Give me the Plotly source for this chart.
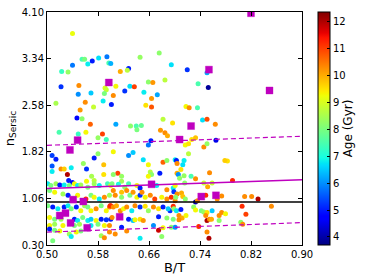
import numpy as np
import plotly.graph_objects as go

# ---- data: galaxies (B/T, Sersic index, age in Gyr) ----
bt = [
    0.540, 0.555, 0.559, 0.571, 0.581, 0.594, 0.597, 0.600, 0.564, 0.540,
    0.523, 0.533, 0.615, 0.628, 0.626, 0.646, 0.676, 0.695, 0.550, 0.522,
    0.608, 0.591, 0.593, 0.630, 0.637, 0.622, 0.569, 0.549, 0.590, 0.604,
    0.652, 0.659, 0.666, 0.685, 0.673, 0.664, 0.514, 0.560, 0.588, 0.601,
    0.552, 0.573, 0.655, 0.664, 0.547, 0.555, 0.568, 0.608, 0.631, 0.640,
    0.648, 0.641, 0.682, 0.678, 0.697, 0.519, 0.561, 0.587, 0.549,
    0.720, 0.751, 0.737, 0.753, 0.718, 0.723, 0.736, 0.744, 0.751, 0.764,
    0.580, 0.593, 0.508, 0.514, 0.508, 0.508, 0.522, 0.527, 0.538, 0.532,
    0.534, 0.540, 0.557, 0.562, 0.574, 0.580, 0.589, 0.589, 0.570, 0.574, 0.562,
    # dense band, left
    0.501, 0.506, 0.514, 0.520, 0.527, 0.535, 0.543, 0.548, 0.553, 0.564,
    0.574, 0.582, 0.595, 0.600,
    0.504, 0.512, 0.525, 0.533, 0.548, 0.561, 0.569, 0.574, 0.582, 0.590, 0.598,
    0.501, 0.509, 0.517, 0.527, 0.533, 0.538, 0.546, 0.553, 0.559, 0.564,
    0.569, 0.577, 0.585, 0.593, 0.598, 0.600,
    0.504, 0.512, 0.522, 0.543, 0.548, 0.556, 0.564, 0.569, 0.577, 0.585,
    0.593, 0.600,
    0.504, 0.512, 0.525, 0.543, 0.551, 0.569, 0.580, 0.590, 0.598,
    0.504, 0.512, 0.520, 0.535, 0.538, 0.546, 0.553, 0.585, 0.590, 0.598, 0.509,
    # dense band, middle
    0.685, 0.689, 0.663, 0.659, 0.604, 0.635, 0.628, 0.651, 0.682, 0.688,
    0.701, 0.659, 0.677, 0.662, 0.664, 0.659, 0.611, 0.604, 0.617, 0.617,
    0.602, 0.612, 0.622, 0.628, 0.641, 0.646, 0.672, 0.688, 0.698,
    0.604, 0.617, 0.625, 0.607, 0.617, 0.630, 0.635, 0.641, 0.646, 0.649,
    0.654, 0.662, 0.669, 0.680, 0.688, 0.695, 0.701,
    0.599, 0.604, 0.609, 0.615, 0.620, 0.625, 0.633, 0.638, 0.646, 0.654,
    0.659, 0.667, 0.675, 0.682, 0.693, 0.698, 0.690,
    0.602, 0.615, 0.628, 0.635, 0.638, 0.646, 0.651, 0.667, 0.675, 0.688, 0.698,
    0.617, 0.625, 0.675, 0.682, 0.695, 0.607, 0.646, 0.680,
    # dense band, right
    0.717, 0.722, 0.727, 0.733, 0.746, 0.751, 0.765, 0.783, 0.779, 0.722,
    0.703, 0.715, 0.713, 0.704, 0.710, 0.704, 0.706, 0.708, 0.715, 0.726,
    0.733, 0.755, 0.746, 0.759, 0.791, 0.716, 0.701,
    0.699, 0.704, 0.711, 0.713, 0.717, 0.702, 0.752, 0.749, 0.767, 0.774,
    0.733, 0.736,
    0.699, 0.703, 0.710, 0.730, 0.733, 0.742, 0.746, 0.751, 0.759, 0.770,
    0.774, 0.780,
    0.707, 0.712, 0.707, 0.718, 0.749, 0.751, 0.755, 0.758, 0.770,
    0.701, 0.738, 0.751, 0.754,
    0.810, 0.821, 0.831, 0.806, 0.852, 0.812, 0.804, 0.807,
]
n_sersic = [
    3.75, 3.33, 3.33, 3.30, 3.35, 3.37, 3.27, 3.26, 3.25, 3.23,
    3.13, 3.12, 3.13, 3.18, 3.15, 3.36, 3.43, 3.24, 2.90, 2.88,
    2.89, 2.86, 2.83, 2.89, 2.88, 2.81, 2.78, 2.76, 2.77, 2.74,
    2.79, 2.96, 2.95, 2.99, 2.75, 2.69, 2.61, 2.63, 2.65, 2.59,
    2.50, 2.55, 2.58, 2.55, 2.37, 2.36, 2.27, 2.27, 2.24, 2.24,
    2.25, 2.18, 2.35, 2.17, 2.29, 2.14, 2.14, 2.11, 2.11,
    3.16, 3.11, 2.93, 2.87, 2.56, 2.54, 2.54, 2.34, 2.35, 2.27,
    2.05, 2.02, 1.76, 1.70, 1.59, 1.50, 1.54, 1.54, 1.56, 1.45,
    1.35, 1.32, 1.63, 1.54, 1.72, 1.79, 1.61, 1.45, 1.42, 1.35, 1.34,
    1.30, 1.27, 1.30, 1.28, 1.28, 1.27, 1.30, 1.27, 1.28, 1.24,
    1.30, 1.27, 1.30, 1.27,
    1.19, 1.16, 1.13, 1.11, 1.11, 1.05, 1.11, 1.08, 1.05, 1.08, 1.11,
    0.94, 0.92, 0.89, 0.92, 0.94, 0.89, 0.92, 0.86, 0.94, 0.92,
    0.86, 0.89, 0.94, 0.86, 0.92, 0.94,
    0.75, 0.72, 0.72, 0.72, 0.70, 0.75, 0.70, 0.72, 0.70, 0.72,
    0.71, 0.72,
    0.62, 0.64, 0.62, 0.62, 0.64, 0.62, 0.64, 0.62, 0.62,
    0.56, 0.54, 0.53, 0.48, 0.44, 0.51, 0.53, 0.45, 0.42, 0.51, 0.37,
    2.13, 2.08, 2.00, 1.93, 1.82, 1.81, 1.76, 1.69, 1.65, 1.68,
    1.69, 1.61, 1.47, 1.49, 1.45, 1.42, 1.47, 1.45, 1.42, 1.34,
    1.30, 1.29, 1.24, 1.30, 1.27, 1.23, 1.27, 1.20, 1.23,
    1.19, 1.16, 1.19, 1.11, 1.08, 1.11, 1.16, 1.08, 1.11, 1.16,
    1.08, 1.11, 1.05, 1.08, 1.05, 1.08, 1.02,
    0.94, 0.92, 0.94, 0.86, 0.89, 0.92, 0.86, 0.94, 0.92, 0.93,
    0.86, 0.92, 0.89, 0.92, 0.86, 0.93, 0.89,
    0.75, 0.78, 0.72, 0.70, 0.71, 0.72, 0.70, 0.62, 0.76, 0.74, 0.72,
    0.59, 0.53, 0.54, 0.58, 0.59, 0.48, 0.41, 0.44,
    1.93, 1.95, 2.02, 2.05, 1.90, 1.95, 2.01, 1.67, 1.68, 1.79,
    1.68, 1.68, 1.61, 1.63, 1.53, 1.47, 1.45, 1.39, 1.43, 1.42,
    1.38, 1.48, 1.31, 1.31, 1.35, 1.31, 1.27,
    1.17, 1.13, 1.15, 1.09, 1.05, 1.08, 1.25, 1.11, 1.05, 1.10,
    1.00, 1.02,
    0.89, 0.86, 0.88, 0.92, 0.87, 0.86, 0.84, 0.83, 0.86, 0.78,
    0.83, 0.81,
    0.78, 0.74, 0.71, 0.78, 0.78, 0.70, 0.72, 0.72, 0.70,
    0.59, 0.60, 0.51, 0.41,
    1.09, 1.09, 1.05, 0.93, 0.93, 0.80, 0.67, 0.64,
]
age = [
    9.2, 7.5, 8.0, 5.0, 6.7, 5.8, 7.5, 6.3, 6.8, 5.8,
    7.3, 8.3, 10.0, 5.0, 8.7, 8.3, 8.2, 6.7, 10.3, 5.2,
    9.3, 9.0, 8.8, 6.7, 11.0, 5.2, 6.5, 6.0, 8.0, 10.3,
    6.8, 8.2, 10.2, 8.7, 6.2, 10.2, 8.5, 10.3, 6.8, 5.0,
    10.2, 8.8, 9.5, 10.8, 4.8, 8.2, 10.7, 6.2, 8.2, 7.5,
    7.8, 8.0, 8.7, 10.2, 9.5, 7.5, 9.3, 11.0, 7.3,
    5.2, 6.3, 7.5, 3.9, 9.3, 10.3, 7.5, 6.7, 10.9, 10.3,
    8.3, 7.4, 5.3, 5.0, 5.5, 6.8, 10.3, 9.7, 6.8, 12.0,
    5.0, 4.8, 8.3, 5.2, 5.0, 8.2, 9.8, 9.5, 8.5, 8.7, 9.3,
    6.8, 8.0, 8.4, 5.0, 6.8, 8.0, 9.3, 6.8, 8.4, 8.0,
    8.4, 6.8, 7.4, 9.3,
    8.0, 9.3, 8.4, 5.0, 9.3, 11.2, 8.0, 9.3, 6.8, 10.3, 8.4,
    8.0, 5.0, 6.8, 5.0, 6.8, 8.0, 5.0, 9.3, 8.4, 8.0,
    9.3, 10.3, 8.0, 9.3, 10.3, 11.2,
    9.3, 8.0, 8.4, 5.0, 6.8, 8.0, 6.8, 6.5, 9.3, 5.0,
    5.2, 5.0,
    9.3, 8.4, 9.3, 8.0, 8.4, 6.8, 8.0, 9.3, 10.3,
    5.0, 8.0, 9.3, 8.4, 6.8, 9.3, 8.0, 8.4, 10.3, 10.3, 8.0,
    10.3, 10.0, 5.0, 5.8, 9.3, 6.5, 6.0, 6.7, 10.7, 8.2,
    6.8, 9.3, 5.0, 8.6, 8.2, 9.3, 11.0, 8.2, 8.3, 8.4,
    8.0, 7.0, 8.2, 7.5, 9.3, 5.0, 6.8, 10.3, 6.8,
    10.3, 9.8, 10.3, 10.3, 8.2, 8.0, 10.2, 9.3, 5.2, 10.3,
    9.3, 10.3, 11.0, 9.3, 10.3, 11.2, 10.3,
    11.2, 10.3, 10.0, 10.3, 9.3, 10.3, 6.8, 10.3, 5.2, 9.5,
    8.3, 10.3, 9.5, 5.0, 5.2, 11.2, 6.5,
    10.3, 9.3, 5.0, 6.5, 9.3, 9.5, 10.2, 6.0, 5.0, 8.2, 8.0,
    5.0, 10.3, 11.8, 9.3, 8.2, 10.3, 6.8, 8.2,
    9.3, 9.5, 9.5, 9.8, 10.3, 8.3, 4.5, 9.5, 9.7, 8.7,
    5.0, 6.8, 6.7, 10.3, 9.5, 10.0, 6.0, 8.2, 8.3, 7.5,
    10.3, 10.3, 8.8, 8.8, 11.2, 8.2, 9.3,
    5.2, 10.3, 10.0, 9.8, 8.2, 8.2, 10.0, 11.2, 10.3, 10.3,
    4.0, 10.3,
    8.3, 6.8, 5.0, 8.2, 9.3, 8.0, 8.3, 9.5, 6.5, 10.3,
    10.3, 9.3,
    10.3, 10.0, 10.3, 9.3, 10.3, 12.0, 10.3, 10.0, 8.2,
    6.0, 11.2, 10.3, 12.0,
    10.3, 10.3, 12.0, 11.2, 10.3, 11.0, 8.2, 10.3,
]

# special objects (magenta squares)
sq_bt = [0.548, 0.536, 0.597, 0.541, 0.557, 0.520, 0.529, 0.537, 0.563,
         0.614, 0.664, 0.708, 0.742, 0.765, 0.726, 0.754, 0.849, 0.820]
sq_n = [2.01, 1.85, 2.95, 1.04, 1.01, 0.78, 0.82, 0.66, 0.58,
        0.76, 1.29, 2.02, 1.09, 1.11, 2.24, 3.16, 2.82, 4.08]

# fitted relations: n = slope * B/T + intercept
fit_slope, fit_intercept = 0.3625, 1.039
upper_slope, upper_intercept = 0.37, 1.741
lower_slope, lower_intercept = 0.3875, 0.3163
n_ref = 1.0

x_ticks = [0.50, 0.58, 0.66, 0.74, 0.82, 0.90]
y_ticks = [0.30, 1.06, 1.82, 2.58, 3.34, 4.10]
age_ticks = [4, 5, 6, 7, 8, 9, 10, 11, 12]
age_min, age_max = 3.7, 12.36

# matplotlib 'jet' colormap as plotly colorscale
_r = [(0, 0), (0.35, 0), (0.66, 1), (0.89, 1), (1, 0.5)]
_g = [(0, 0), (0.125, 0), (0.375, 1), (0.64, 1), (0.91, 0), (1, 0)]
_b = [(0, 0.5), (0.11, 1), (0.34, 1), (0.65, 0), (1, 0)]
_stops = sorted(set([p for p, _ in _r + _g + _b]))
def _ch(seg, t):
    return np.interp(t, [p for p, _ in seg], [v for _, v in seg])
jet = [[t, "rgb(%d,%d,%d)" % (round(255 * _ch(_r, t)), round(255 * _ch(_g, t)), round(255 * _ch(_b, t)))]
       for t in _stops]

magenta = "#bf00bf"
font = "DejaVu Sans"

fig = go.Figure()
fig.add_trace(go.Scatter(
    x=bt, y=n_sersic, mode="markers",
    marker=dict(size=5, color=age, colorscale=jet, cmin=age_min, cmax=age_max,
                line=dict(width=0),
                colorbar=dict(
                    x=1.061, xanchor="left", xpad=0, y=0.5, yanchor="middle", ypad=0,
                    len=1, lenmode="fraction", thickness=12,
                    outlinewidth=1, outlinecolor="black",
                    tickvals=age_ticks, ticks="inside", ticklen=3, tickcolor="black",
                    tickfont=dict(family=font, size=10, color="black"),
                    title=dict(text="Age (Gyr)", side="right",
                               font=dict(family=font, size=12, color="black")),
                )),
    showlegend=False, hoverinfo="skip",
))

xl = np.array([0.50, 0.90])
fig.add_trace(go.Scatter(x=xl, y=[n_ref, n_ref], mode="lines",
                         line=dict(color="black", width=1.5), showlegend=False, hoverinfo="skip"))
fig.add_trace(go.Scatter(x=xl, y=fit_slope * xl + fit_intercept, mode="lines",
                         line=dict(color=magenta, width=1.5), showlegend=False, hoverinfo="skip"))
fig.add_trace(go.Scatter(x=xl, y=upper_slope * xl + upper_intercept, mode="lines",
                         line=dict(color=magenta, width=1.2, dash="5px,3px"), showlegend=False, hoverinfo="skip"))
fig.add_trace(go.Scatter(x=xl, y=lower_slope * xl + lower_intercept, mode="lines",
                         line=dict(color=magenta, width=1.2, dash="5px,3px"), showlegend=False, hoverinfo="skip"))
fig.add_trace(go.Scatter(x=sq_bt, y=sq_n, mode="markers",
                         marker=dict(symbol="square", size=7, color=magenta,
                                     line=dict(width=1, color="rgba(191,0,191,0.35)")),
                         showlegend=False, hoverinfo="skip"))

axis_common = dict(showline=True, linecolor="black", linewidth=1, mirror="ticks",
                   ticks="inside", ticklen=4, tickcolor="black", showgrid=False, zeroline=False,
                   tickfont=dict(family=font, size=10, color="black"))
fig.update_xaxes(range=[0.50, 0.90], tickvals=x_ticks, ticktext=["%.2f" % v for v in x_ticks],
                 title=dict(text="B/T", font=dict(family=font, size=13, color="black"), standoff=3),
                 **axis_common)
fig.update_yaxes(range=[0.30, 4.10], tickvals=y_ticks, ticktext=["%.2f" % v for v in y_ticks],
                 title=dict(text="n<sub>Sersic</sub>", font=dict(family=font, size=13, color="black"), standoff=4),
                 **axis_common)

fig.update_layout(width=374, height=280,
                  margin=dict(l=46.5, r=72, t=12, b=35, autoexpand=False),
                  paper_bgcolor="white", plot_bgcolor="white",
                  font=dict(family=font, color="black"))
fig.write_html("out.html", config={"displayModeBar": False, "staticPlot": True},
               post_script="document.body.style.margin='0';")
